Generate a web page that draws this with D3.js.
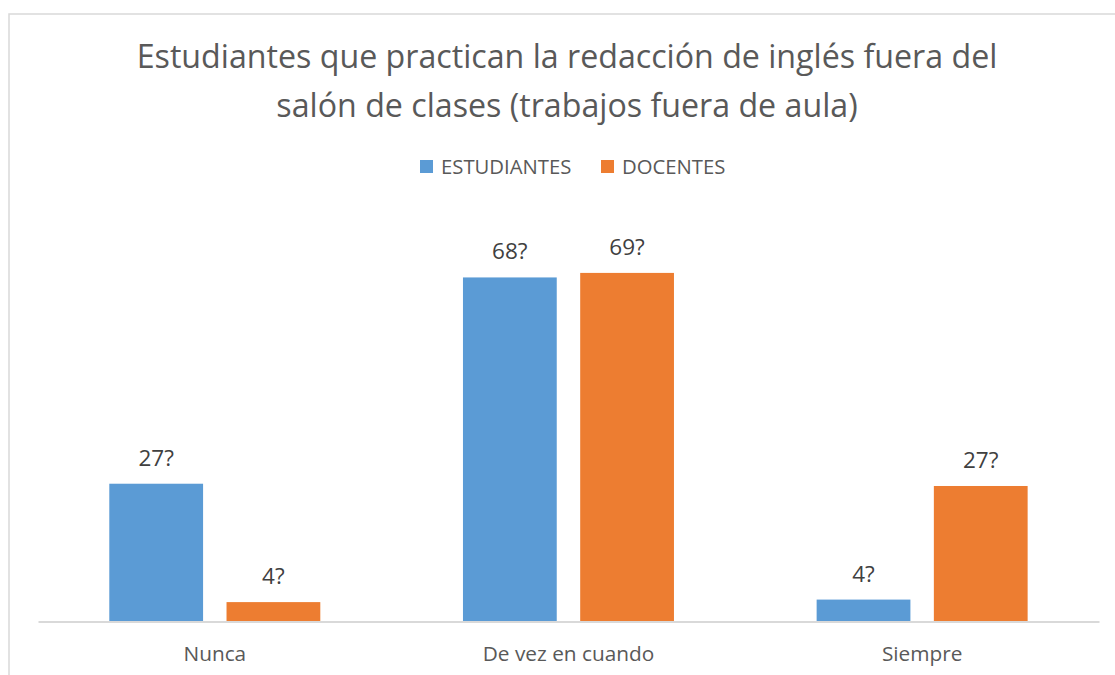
<!DOCTYPE html>
<html>
<head>
<meta charset="utf-8">
<script src="https://cdn.jsdelivr.net/npm/d3@7"></script>
<style>
  body { margin: 0; background: #fff; }
  svg { display: block; font-family: "Open Sans", sans-serif; }
</style>
</head>
<body>
<div class="chart"></div>
<script>
// data
let categories = ["Nunca", "De vez en cuando", "Siempre"]
let seriesNames = ["ESTUDIANTES", "DOCENTES"]
let estudiantes = [27.35, 68.3, 4.35]
let docentes = [3.85, 69.2, 26.9]
let estudiantesLabels = ["27?", "68?", "4?"]
let docentesLabels = ["4?", "69?", "27?"]
let titleLines = ["Estudiantes que practican la redacción de inglés fuera del",
                  "salón de clases (trabajos fuera de aula)"]

let colors = ["#5B9BD5", "#ED7D31"]

let svgWidth = 1115
let svgHeight = 675

let plot = { left: 38, right: 1099, top: 218.5, bottom: 621.5 }

let svg = d3.select('.chart')
    .append('svg')
    .attr('width', svgWidth)
    .attr('height', svgHeight)

// chart border
svg.append('rect')
    .attr('x', 9).attr('y', 14)
    .attr('width', svgWidth + 20).attr('height', svgHeight + 20)
    .attr('fill', 'none')
    .attr('stroke', '#d9d9d9')
    .attr('stroke-width', 1.5)

// title, sized to the reference width
let title = svg.append('g')
titleLines.forEach((t, i) => {
    title.append('text')
        .attr('x', 567)
        .attr('y', 68 + i * 49)
        .attr('text-anchor', 'middle')
        .attr('fill', '#595959')
        .attr('font-size', 30)
        .text(t)
})
let w0 = title.select('text').node().getComputedTextLength()
let fs = Math.min(34, 30 * 861 / w0)
title.selectAll('text').attr('font-size', fs)

// scales
let x0 = d3.scaleBand()
    .domain(categories)
    .range([plot.left, plot.right])

let x1 = d3.scaleBand()
    .domain(seriesNames)
    .range([71.3, 282.3])
    .paddingInner(0.2)

let y = d3.scaleLinear()
    .domain([0, 80])
    .range([plot.bottom, plot.top])

let rows = categories.map((c, i) => ({
    cat: c,
    vals: [
        { name: seriesNames[0], v: estudiantes[i], label: estudiantesLabels[i] },
        { name: seriesNames[1], v: docentes[i], label: docentesLabels[i] }
    ]
}))

let groups = svg.selectAll('.grp')
    .data(rows)
    .enter().append('g')
    .attr('class', 'grp')
    .attr('transform', d => `translate(${x0(d.cat)},0)`)

groups.selectAll('rect')
    .data(d => d.vals)
    .enter().append('rect')
    .attr('x', d => x1(d.name))
    .attr('y', d => y(d.v))
    .attr('width', x1.bandwidth())
    .attr('height', d => y(0) - y(d.v))
    .attr('fill', (d, i) => colors[i])

groups.selectAll('.lbl')
    .data(d => d.vals)
    .enter().append('text')
    .attr('class', 'lbl')
    .attr('x', d => x1(d.name) + x1.bandwidth() / 2)
    .attr('y', d => y(d.v) - 18)
    .attr('text-anchor', 'middle')
    .attr('fill', '#404040')
    .attr('font-size', 22.5)
    .text(d => d.label)

// x axis
let xAxis = d3.axisBottom(x0).tickSize(0).tickPadding(0)
let gx = svg.append('g')
    .attr('transform', `translate(0,${plot.bottom})`)
    .call(xAxis)
gx.select('.domain').attr('stroke', '#d9d9d9').attr('stroke-width', 2)
gx.selectAll('text')
    .attr('dy', null)
    .attr('y', 39)
    .attr('fill', '#595959')
    .attr('font-size', 20.8)
    .attr('font-family', '"Open Sans", sans-serif')

// legend
let legendX = [420, 601]
let legend = svg.selectAll('.leg')
    .data(seriesNames)
    .enter().append('g')
    .attr('class', 'leg')
    .attr('transform', (d, i) => `translate(${legendX[i]},160)`)
legend.append('rect')
    .attr('width', 13).attr('height', 13)
    .attr('fill', (d, i) => colors[i])
legend.append('text')
    .attr('x', 21).attr('y', 14)
    .attr('fill', '#595959')
    .attr('font-size', 20.3)
    .text(d => d)
</script>
</body>
</html>
